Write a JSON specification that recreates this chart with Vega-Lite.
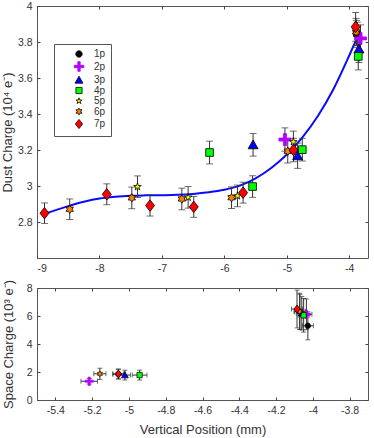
{
  "$schema": "https://vega.github.io/schema/vega-lite/v6.json",
  "background": "white",
  "padding": {"left": 0, "top": 0, "right": 2, "bottom": 0},
  "spacing": 30,
  "bounds": "flush",
  "config": {
    "font": "Liberation Sans",
    "view": {"stroke": "#555", "strokeWidth": 1},
    "axis": {
      "grid": false,
      "domain": false,
      "tickSize": -3,
      "tickColor": "#444",
      "labelColor": "#333",
      "labelFontSize": 10.5,
      "labelPadding": 8,
      "titleColor": "#333",
      "titleFontSize": 13,
      "titleFontWeight": "normal"
    }
  },
  "datasets": {
    "curve": [
      {"x": -8.88, "y": 2.845}, {"x": -8.7, "y": 2.866}, {"x": -8.5, "y": 2.888},
      {"x": -8.25, "y": 2.912}, {"x": -8.0, "y": 2.93}, {"x": -7.75, "y": 2.94},
      {"x": -7.5, "y": 2.946}, {"x": -7.25, "y": 2.948}, {"x": -7.0, "y": 2.949},
      {"x": -6.75, "y": 2.951}, {"x": -6.5, "y": 2.956}, {"x": -6.25, "y": 2.965},
      {"x": -6.0, "y": 2.979}, {"x": -5.75, "y": 3.002}, {"x": -5.5, "y": 3.042},
      {"x": -5.25, "y": 3.1}, {"x": -5.0, "y": 3.175}, {"x": -4.75, "y": 3.27},
      {"x": -4.5, "y": 3.39}, {"x": -4.25, "y": 3.54}, {"x": -4.0, "y": 3.725},
      {"x": -3.86, "y": 3.835}
    ],
    "top": [
      {"series": "1p", "x": -3.87, "y": 3.84, "ey": 0.07},
      {"series": "2p", "x": -5.03, "y": 3.258, "ey": 0.065},
      {"series": "2p", "x": -3.82, "y": 3.82, "ey": 0.075},
      {"series": "3p", "x": -5.54, "y": 3.229, "ey": 0.063},
      {"series": "3p", "x": -4.827, "y": 3.168, "ey": 0.07},
      {"series": "3p", "x": -3.845, "y": 3.761, "ey": 0.075},
      {"series": "4p", "x": -6.237, "y": 3.186, "ey": 0.063},
      {"series": "4p", "x": -5.548, "y": 2.997, "ey": 0.06},
      {"series": "4p", "x": -4.752, "y": 3.202, "ey": 0.063},
      {"series": "4p", "x": -3.856, "y": 3.72, "ey": 0.075},
      {"series": "5p", "x": -7.391, "y": 2.996, "ey": 0.06},
      {"series": "5p", "x": -6.58, "y": 2.937, "ey": 0.06},
      {"series": "5p", "x": -5.79, "y": 2.945, "ey": 0.06},
      {"series": "5p", "x": -4.895, "y": 3.245, "ey": 0.06},
      {"series": "5p", "x": -3.885, "y": 3.85, "ey": 0.07},
      {"series": "6p", "x": -8.476, "y": 2.871, "ey": 0.057},
      {"series": "6p", "x": -7.482, "y": 2.934, "ey": 0.06},
      {"series": "6p", "x": -6.681, "y": 2.928, "ey": 0.06},
      {"series": "6p", "x": -5.885, "y": 2.935, "ey": 0.06},
      {"series": "6p", "x": -4.985, "y": 3.193, "ey": 0.065},
      {"series": "6p", "x": -3.89, "y": 3.856, "ey": 0.075},
      {"series": "7p", "x": -8.88, "y": 2.849, "ey": 0.057},
      {"series": "7p", "x": -7.883, "y": 2.954, "ey": 0.058},
      {"series": "7p", "x": -7.19, "y": 2.891, "ey": 0.058},
      {"series": "7p", "x": -6.49, "y": 2.884, "ey": 0.058},
      {"series": "7p", "x": -5.7, "y": 2.963, "ey": 0.058},
      {"series": "7p", "x": -4.893, "y": 3.2, "ey": 0.065},
      {"series": "7p", "x": -3.898, "y": 3.884, "ey": 0.08}
    ],
    "bot": [
      {"series": "1p", "x": -5.058, "y": 1.85, "ex": 0.03, "ey": 0.35},
      {"series": "1p", "x": -4.027, "y": 5.3, "ex": 0.03, "ey": 1.0},
      {"series": "2p", "x": -5.216, "y": 1.34, "ex": 0.045, "ey": 0.2},
      {"series": "2p", "x": -4.035, "y": 6.12, "ex": 0.03, "ey": 1.1},
      {"series": "3p", "x": -5.022, "y": 1.78, "ex": 0.03, "ey": 0.35},
      {"series": "3p", "x": -4.06, "y": 6.2, "ex": 0.03, "ey": 1.2},
      {"series": "4p", "x": -4.942, "y": 1.78, "ex": 0.04, "ey": 0.35},
      {"series": "4p", "x": -4.05, "y": 6.05, "ex": 0.03, "ey": 1.2},
      {"series": "5p", "x": -4.07, "y": 6.3, "ex": 0.03, "ey": 1.25},
      {"series": "6p", "x": -5.158, "y": 1.87, "ex": 0.033, "ey": 0.4},
      {"series": "6p", "x": -4.072, "y": 6.33, "ex": 0.03, "ey": 1.3},
      {"series": "7p", "x": -5.057, "y": 1.86, "ex": 0.03, "ey": 0.35},
      {"series": "7p", "x": -4.086, "y": 6.5, "ex": 0.03, "ey": 1.35}
    ]
  },
  "resolve": {
    "legend": {"color": "independent", "shape": "independent", "stroke": "independent"}
  },
  "vconcat": [
    {
      "width": 331,
      "height": 252,
      "resolve": {"axis": {"x": "independent", "y": "independent"}},
      "layer": [
        {
          "data": {"name": "curve"},
          "mark": {"type": "line", "color": "#0a0aff", "strokeWidth": 2, "interpolate": "monotone"},
          "encoding": {
            "x": {"field": "x", "type": "quantitative", "scale": {"domain": [-9, -3.7], "nice": false, "zero": false}, "axis": null},
            "y": {"field": "y", "type": "quantitative", "scale": {"domain": [2.6, 4], "nice": false, "zero": false}, "axis": null}
          }
        },
        {
          "data": {"name": "top"},
          "mark": {"type": "errorbar", "ticks": true, "size": 7, "thickness": 1, "color": "#333"},
          "encoding": {
            "x": {"field": "x", "type": "quantitative", "axis": null},
            "y": {"field": "y", "type": "quantitative", "axis": null},
            "yError": {"field": "ey"}
          }
        },
        {
          "data": {"name": "top"},
          "mark": {"type": "point", "filled": true, "opacity": 1, "strokeWidth": 0.8, "size": 100},
          "encoding": {
            "x": {"field": "x", "type": "quantitative", "title": null,
                  "axis": {"values": [-9, -8, -7, -6, -5, -4], "labelExpr": "'' + datum.value"}},
            "y": {"field": "y", "type": "quantitative", "title": "Dust Charge (10⁴ e⁻)",
                  "axis": {"values": [2.8, 3, 3.2, 3.4, 3.6, 3.8, 4], "labelExpr": "'' + datum.value", "titlePadding": 3}},
            "color": {"field": "series", "type": "nominal",
              "scale": {"domain": ["1p", "2p", "3p", "4p", "5p", "6p", "7p"], "range": ["#000000", "#b400ff", "#0000ff", "#00ff00", "#ffff00", "#ff8000", "#ff0000"]},
              "legend": {"orient": "none", "legendX": 17, "legendY": 38, "title": null, "strokeColor": "#555", "fillColor": "white", "padding": 5, "symbolOffset": 15, "labelOffset": 10, "rowPadding": 0.5, "labelFontSize": 10, "labelColor": "#333", "symbolSize": 64, "symbolStrokeWidth": 0.8}},
            "shape": {"field": "series", "type": "nominal",
              "scale": {"domain": ["1p", "2p", "3p", "4p", "5p", "6p", "7p"], "range": [
                "M0.8,0A0.8,0.8,0,1,1,-0.8,0A0.8,0.8,0,1,1,0.8,0Z",
                "M-1.2,-0.3H-0.3V-1.2H0.3V-0.3H1.2V0.3H0.3V1.2H-0.3V0.3H-1.2Z",
                "M0,-0.95L1,0.8L-1,0.8Z",
                "M-0.77,-0.77H0.77V0.77H-0.77Z",
                "M0,-0.8L0.18,-0.247L0.761,-0.247L0.29,0.094L0.47,0.647L0,0.306L-0.47,0.647L-0.29,0.094L-0.761,-0.247L-0.18,-0.247Z",
                "M0,-0.85L0.245,-0.425L0.736,-0.425L0.49,0L0.736,0.425L0.245,0.425L0,0.85L-0.245,0.425L-0.736,0.425L-0.49,0L-0.736,-0.425L-0.245,-0.425Z",
                "M0,-1.15L0.9,0L0,1.15L-0.9,0Z"
              ]},
              "legend": {"orient": "none", "legendX": 17, "legendY": 38, "title": null, "strokeColor": "#555", "fillColor": "white", "padding": 5, "symbolOffset": 15, "labelOffset": 10, "rowPadding": 0.5, "labelFontSize": 10, "labelColor": "#333", "symbolSize": 64, "symbolStrokeWidth": 0.8}},
            "stroke": {"field": "series", "type": "nominal",
              "scale": {"domain": ["1p", "2p", "3p", "4p", "5p", "6p", "7p"], "range": ["#000000", "#b400ff", "#000000", "#000000", "#000000", "#000000", "#000000"]},
              "legend": {"orient": "none", "legendX": 17, "legendY": 38, "title": null, "strokeColor": "#555", "fillColor": "white", "padding": 5, "symbolOffset": 15, "labelOffset": 10, "rowPadding": 0.5, "labelFontSize": 10, "labelColor": "#333", "symbolSize": 64, "symbolStrokeWidth": 0.8}}
          }
        },
        {
          "mark": {"type": "text", "text": "(a)", "align": "left", "baseline": "middle", "fontSize": 10.5, "color": "#333"},
          "encoding": {
            "x": {"datum": -8.78, "type": "quantitative", "axis": {"orient": "top", "labels": false, "title": null, "values": [-9, -8, -7, -6, -5, -4]}},
            "y": {"datum": 3.895, "type": "quantitative", "axis": {"orient": "right", "labels": false, "title": null, "values": [2.8, 3, 3.2, 3.4, 3.6, 3.8, 4]}}
          }
        }
      ]
    },
    {
      "width": 331,
      "height": 112,
      "resolve": {"axis": {"x": "independent", "y": "independent"}},
      "layer": [
        {
          "data": {"name": "bot"},
          "mark": {"type": "errorbar", "ticks": true, "size": 5, "thickness": 1, "color": "#333"},
          "encoding": {
            "x": {"field": "x", "type": "quantitative", "scale": {"domain": [-5.5, -3.7], "nice": false, "zero": false}, "axis": null},
            "xError": {"field": "ex"},
            "y": {"field": "y", "type": "quantitative", "scale": {"domain": [0, 8], "nice": false}, "axis": null}
          }
        },
        {
          "data": {"name": "bot"},
          "mark": {"type": "errorbar", "ticks": true, "size": 5, "thickness": 1, "color": "#333"},
          "encoding": {
            "x": {"field": "x", "type": "quantitative", "axis": null},
            "y": {"field": "y", "type": "quantitative", "axis": null},
            "yError": {"field": "ey"}
          }
        },
        {
          "data": {"name": "bot"},
          "mark": {"type": "point", "filled": true, "opacity": 1, "strokeWidth": 0.7, "size": 48},
          "encoding": {
            "x": {"field": "x", "type": "quantitative", "title": "Vertical Position (mm)",
                  "axis": {"values": [-5.4, -5.2, -5, -4.8, -4.6, -4.4, -4.2, -4, -3.8], "labelExpr": "'' + datum.value", "titlePadding": 8}},
            "y": {"field": "y", "type": "quantitative", "title": "Space Charge (10³ e⁻)",
                  "axis": {"values": [0, 2, 4, 6, 8], "labelExpr": "'' + datum.value", "titlePadding": 11}},
            "color": {"field": "series", "type": "nominal", "legend": null},
            "shape": {"field": "series", "type": "nominal", "legend": null},
            "stroke": {"field": "series", "type": "nominal", "legend": null}
          }
        },
        {
          "mark": {"type": "text", "text": "(b)", "align": "left", "baseline": "middle", "fontSize": 10.5, "color": "#333"},
          "encoding": {
            "x": {"datum": -5.396, "type": "quantitative", "axis": {"orient": "top", "labels": false, "title": null, "values": [-5.4, -5.2, -5, -4.8, -4.6, -4.4, -4.2, -4, -3.8]}},
            "y": {"datum": 7.0, "type": "quantitative", "axis": {"orient": "right", "labels": false, "title": null, "values": [0, 2, 4, 6, 8]}}
          }
        }
      ]
    }
  ]
}
